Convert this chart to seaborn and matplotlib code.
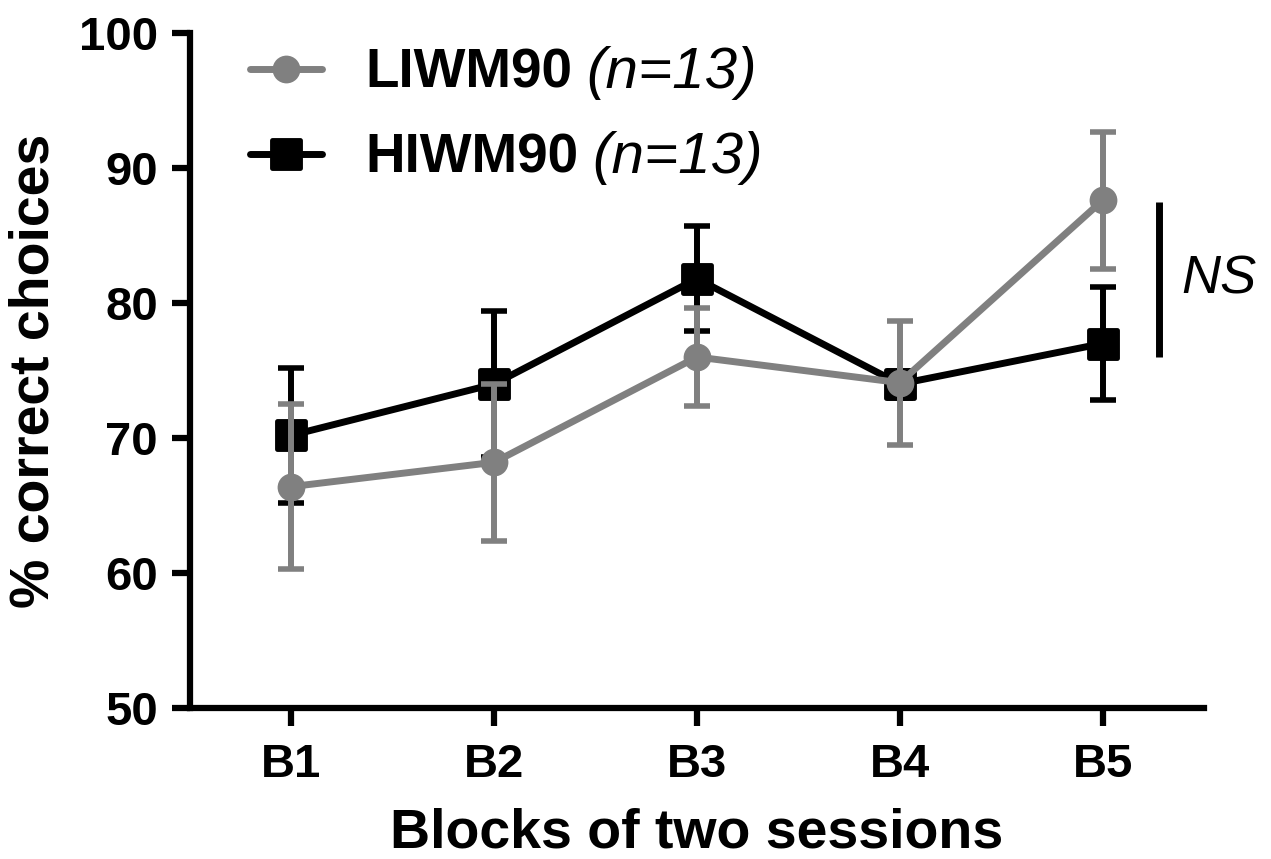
import pandas as pd
import matplotlib.pyplot as plt
import seaborn as sns
from matplotlib.lines import Line2D
from matplotlib.markers import MarkerStyle

# Valores (media ± SEM)
bloques = ['B1', 'B2', 'B3', 'B4', 'B5']
liwm_media = [66.4, 68.2, 76.0, 74.1, 87.6]
liwm_sem = [6.1, 5.8, 3.6, 4.6, 5.1]
hiwm_media = [70.2, 74.0, 81.8, 74.0, 77.0]
hiwm_sem = [5.0, 5.4, 3.9, 1.0, 4.2]
grupos = ['LIWM90', 'HIWM90']
n_grupo = 13

# Barra de "NS" entre los dos grupos en B5
ns_x = 4.28
ns_y = (76.0, 87.5)

sns.set_style("ticks")
plt.rcParams['font.family'] = ['Liberation Sans', 'DejaVu Sans']
for k in ['text.color', 'axes.labelcolor', 'xtick.color', 'ytick.color', 'axes.edgecolor']:
    plt.rcParams[k] = 'black'

gris = '#808080'

df = pd.DataFrame({
    'bloque': bloques * 2,
    'pct': liwm_media + hiwm_media,
    'grupo': ['LIWM90'] * len(bloques) + ['HIWM90'] * len(bloques),
})

fig = plt.figure(figsize=(12.71, 8.59), dpi=100)
ax = fig.add_axes([190 / 1271, 1 - 708 / 859, (1204 - 190) / 1271, (708 - 33) / 859])

# primero el negro, luego el gris encima
ax.errorbar(bloques, hiwm_media, yerr=hiwm_sem, fmt='none', ecolor='black',
            elinewidth=4.3, capsize=9.5, capthick=4, zorder=2)
sns.lineplot(data=df[df.grupo == 'HIWM90'], x='bloque', y='pct', color='black',
             marker='s', markersize=20, linewidth=5, errorbar=None, ax=ax, zorder=2.5)
ax.errorbar(bloques, liwm_media, yerr=liwm_sem, fmt='none', ecolor=gris,
            elinewidth=4.3, capsize=9.5, capthick=4, zorder=3)
sns.lineplot(data=df[df.grupo == 'LIWM90'], x='bloque', y='pct', color=gris,
             marker='o', markersize=20, linewidth=5, errorbar=None, ax=ax, zorder=3.5)

# cuadrados con esquinas redondeadas
for ln in ax.lines:
    if ln.get_marker() == 's':
        ln.set_marker(MarkerStyle('s', joinstyle='round'))
        ln.set_markeredgecolor('black')
        ln.set_markeredgewidth(3.5)
    elif ln.get_marker() == 'o':
        ln.set_markeredgewidth(0)

ax.set_ylim(50, 100)
ax.set_xlim(-0.5, 4.5)
ax.set_yticks([50, 60, 70, 80, 90, 100])
sns.despine(ax=ax)
for s in ['left', 'bottom']:
    ax.spines[s].set_linewidth(4.5)
ax.tick_params(axis='both', width=4.5, length=13, labelsize=34)
ax.tick_params(axis='y', pad=10)
ax.tick_params(axis='x', pad=12)
for t in ax.get_xticklabels() + ax.get_yticklabels():
    t.set_fontweight('bold')

ax.set_xlabel("Blocks of two sessions", fontsize=40, fontweight='bold')
ax.set_ylabel("% correct choices", fontsize=40, fontweight='bold')
ax.xaxis.set_label_coords(0.5, -0.186)
ax.xaxis.label.set_va('center')
ax.yaxis.set_label_coords((35 - 190) / 1014, 0.5)
ax.yaxis.label.set_va('center')

# leyenda: nombre en negrita + (n=13) en cursiva
handles = [
    Line2D([], [], color=gris, marker='o', markersize=20, linewidth=5, markeredgewidth=0),
    Line2D([], [], color='black', marker=MarkerStyle('s', joinstyle='round'), markersize=20,
           linewidth=5, markeredgewidth=3.5),
]
leg = ax.legend(handles, grupos, loc='upper left', bbox_to_anchor=(0.059, 0.978),
                frameon=False, prop={'size': 39.5, 'weight': 'bold'}, borderpad=0,
                borderaxespad=0, handlelength=1.32, handletextpad=0.78, labelspacing=0.6)
for txt in leg.get_texts():
    ax.annotate(f'(n={n_grupo})', xy=(1, 0), xycoords=txt, xytext=(10, 0),
                textcoords='offset points', ha='left', va='bottom', zorder=6,
                fontsize=42, fontstyle='italic', fontweight='normal')

# NS
ax.vlines(ns_x, ns_y[0], ns_y[1], color='black', linewidth=5)
ax.text(ns_x + 0.11, sum(ns_y) / 2, 'NS', fontsize=39, fontstyle='italic',
        fontweight='normal', ha='left', va='center')

fig.savefig('out.png', dpi=100)
